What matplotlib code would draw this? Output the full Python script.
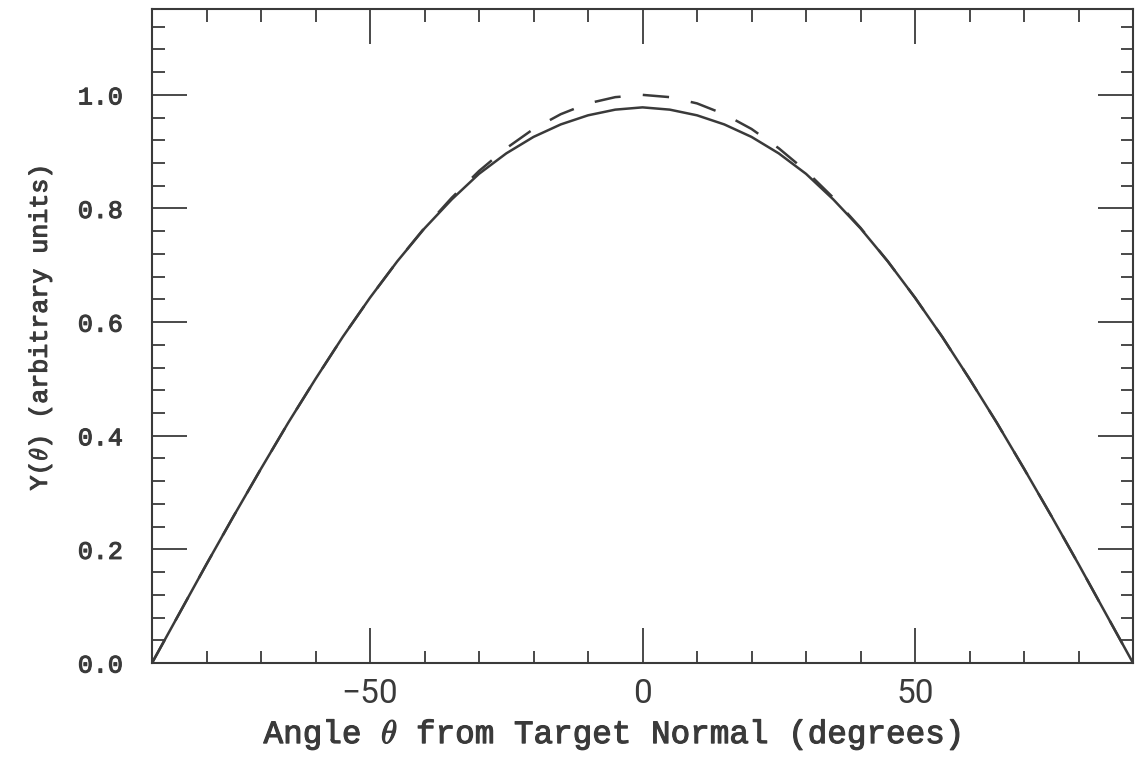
import matplotlib
matplotlib.use('Agg')
import matplotlib.pyplot as plt
import matplotlib.patheffects as pe
from matplotlib.ticker import MultipleLocator, FixedLocator

# emission angle, degrees
theta = [-90, -85, -80, -75, -70, -65, -60, -55, -50, -45, -40, -35, -30,
         -25, -20, -15, -10, -5, 0, 5, 10, 15, 20, 25, 30, 35, 40, 45, 50,
         55, 60, 65, 70, 75, 80, 85, 90]

# computed yield (solid)
yield_calc = [0.000, 0.087, 0.174, 0.259, 0.342, 0.423, 0.500, 0.574, 0.643,
              0.707, 0.765, 0.816, 0.861, 0.897, 0.926, 0.948, 0.964, 0.974,
              0.978, 0.974, 0.964, 0.948, 0.926, 0.897, 0.861, 0.816, 0.765,
              0.707, 0.643, 0.574, 0.500, 0.423, 0.342, 0.259, 0.174, 0.087,
              0.000]

# cosine reference (dashed)
yield_cos = [0.000, 0.087, 0.174, 0.259, 0.342, 0.423, 0.500, 0.574, 0.643,
             0.707, 0.766, 0.819, 0.866, 0.906, 0.940, 0.966, 0.985, 0.996,
             1.000, 0.996, 0.985, 0.966, 0.940, 0.906, 0.866, 0.819, 0.766,
             0.707, 0.643, 0.574, 0.500, 0.423, 0.342, 0.259, 0.174, 0.087,
             0.000]

y_ticks = [0.0, 0.2, 0.4, 0.6, 0.8, 1.0]
y_labels = ['0.0', '0.2', '0.4', '0.6', '0.8', '1.0']
x_ticks = [-50, 0, 50]
x_labels = ['\u221250', '0', '50']

ink = '#3a3a3a'
matplotlib.rcParams.update({
    'lines.scale_dashes': False,
    'mathtext.fontset': 'cm',
    'axes.linewidth': 1.5,
    'axes.edgecolor': ink,
    'xtick.color': ink,
    'ytick.color': ink,
})
# thicken the thin Courier-style strokes a little
heavy = [pe.withStroke(linewidth=0.8, foreground=ink)]

fig = plt.figure(figsize=(11.37, 7.57), dpi=100)
ax = fig.add_axes([0.1337, 0.1242, 0.8628, 0.8638])

ax.plot(theta, yield_calc, color=ink, lw=1.8)
ax.plot(theta, yield_cos, color=ink, lw=1.8, linestyle=(0, (19, 16)))

ax.set_xlim(-90, 90)
ax.set_ylim(0, 1.151)

ax.xaxis.set_major_locator(FixedLocator(x_ticks))
ax.xaxis.set_minor_locator(FixedLocator([-80, -70, -60, -40, -30, -20, -10,
                                         10, 20, 30, 40, 60, 70, 80]))
ax.yaxis.set_major_locator(FixedLocator(y_ticks))
ax.yaxis.set_minor_locator(MultipleLocator(0.04))

ax.tick_params(which='both', direction='in', top=True, right=True)
ax.tick_params(which='major', length=25, width=1.3)
ax.tick_params(which='minor', length=9, width=1.3)
ax.tick_params(axis='x', which='major', pad=11)
ax.tick_params(axis='y', which='major', pad=21)

ax.set_xticklabels(x_labels, family='Roboto', fontsize=24, color=ink)
ax.set_yticklabels(y_labels, family='Liberation Mono', fontsize=18,
                   color=ink, path_effects=heavy)

ax.set_xlabel(r'Angle $\theta$ from Target Normal (degrees)',
              family='Liberation Mono', fontsize=23.5, color=ink,
              path_effects=heavy)
ax.set_ylabel(r'Y($\theta$) (arbitrary units)', family='Liberation Mono',
              fontsize=18, color=ink, path_effects=heavy)
ax.xaxis.set_label_coords(0.469, -0.083)
ax.yaxis.set_label_coords(-0.100, 0.512)

fig.savefig('out.png', dpi=100)
